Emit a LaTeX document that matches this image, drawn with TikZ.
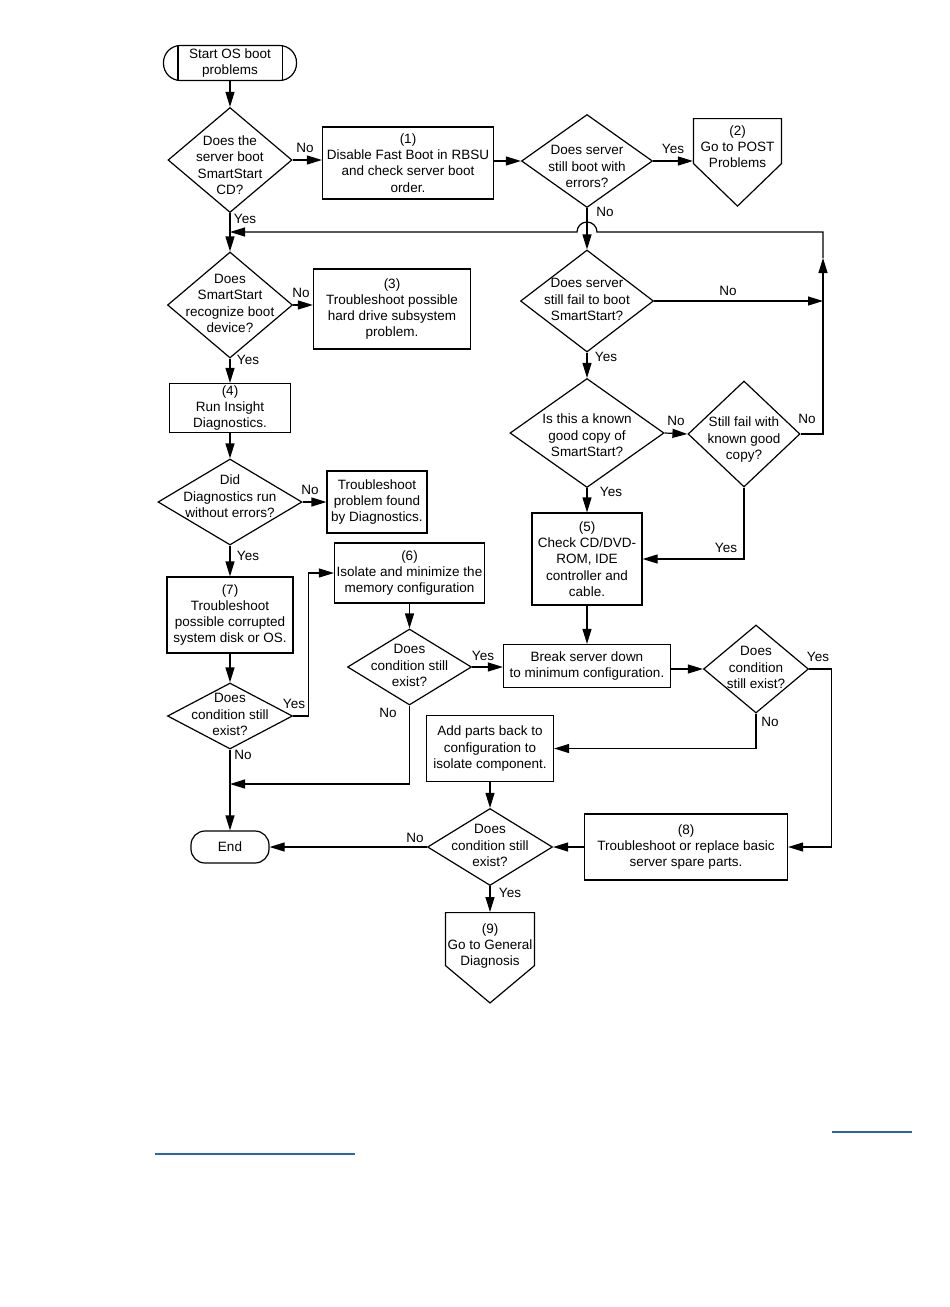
\documentclass[tikz,border=0pt]{standalone}
\usepackage{fontspec}
\setmainfont{Liberation Sans}
\usetikzlibrary{shapes.geometric,shapes.symbols,arrows.meta,calc}

\definecolor{linkblue}{RGB}{40,100,190}

\newcommand{\qtxt}[2][0pt]{\smash{\makebox[0pt]{\raisebox{\dimexpr-3.4pt-#1\relax}{\begin{tabular}{@{}c@{}}#2\end{tabular}}}}}

\tikzset{
  decision/.style={draw, diamond, inner sep=0pt},
  process/.style={draw, rectangle, inner sep=0pt, align=center},
  terminal/.style={draw, rectangle, rounded corners=14pt, inner sep=0pt, align=center},
  offpage/.style={draw, signal, signal to=south, signal from=nowhere, inner sep=0pt},
  flow/.style={-{Triangle[length=15pt, width=9pt]}},
  lbl/.style={inner sep=0pt},
}

\begin{document}
\begin{tikzpicture}[x=1pt, y=-1pt, line width=1.2pt, font=\fontsize{13.5}{16.3}\selectfont]
      \useasboundingbox (0, 0) rectangle (950, 1307);

      \node[terminal, rounded corners=17pt, minimum width=133pt, minimum height=35pt] (start) at (230, 63) {Start OS boot\\problems};
      \draw ([xshift=15pt]start.north west) -- ([xshift=15pt]start.south west);
      \draw ([xshift=-15pt]start.north east) -- ([xshift=-15pt]start.south east);

      \node[decision, minimum width=124pt, minimum height=105pt] (qboot) at (230, 160) {\qtxt[7pt]{Does the\\server boot\\SmartStart\\CD?}};
      \node[process, minimum width=171pt, minimum height=72pt] (fastboot) at (408, 163) {(1)\\Disable Fast Boot in RBSU\\and check server boot\\order.};
      \node[decision, minimum width=131pt, minimum height=93pt] (qerr) at (587, 161) {\qtxt[7pt]{Does server\\still boot with\\errors?}};
      \node[offpage, signal pointer angle=92, minimum width=88pt, minimum height=45pt, anchor=north] (post) at (737.5, 118) {\qtxt[7.5pt]{(2)\\Go to POST\\Problems}};

      \node[decision, minimum width=125pt, minimum height=106pt] (qrecog) at (230, 305) {\qtxt{Does\\SmartStart\\recognize boot\\device?}};
      \node[process, minimum width=157pt, minimum height=80pt] (hdd) at (392, 309) {(3)\\Troubleshoot possible\\hard drive subsystem\\problem.};
      \node[process, minimum width=121pt, minimum height=49pt] (insight) at (230, 408) {(4)\\Run Insight\\Diagnostics.};
      \node[decision, minimum width=144pt, minimum height=86pt] (qdiag) at (230, 502) {\qtxt[-4pt]{Did\\Diagnostics run\\without errors?}};
      \node[process, minimum width=100pt, minimum height=62pt] (diagfix) at (377, 502) {Troubleshoot\\problem found\\by Diagnostics.};
      \node[process, minimum width=126pt, minimum height=76pt] (corrupt) at (230, 615) {(7)\\Troubleshoot\\possible corrupted\\system disk or OS.};
      \node[decision, minimum width=125pt, minimum height=66pt] (qcondA) at (230, 716) {\qtxt{Does\\condition still\\exist?}};
      \node[process, minimum width=150pt, minimum height=60pt] (memory) at (409.5, 573) {(6)\\Isolate and minimize the\\memory configuration};
      \node[decision, minimum width=124pt, minimum height=76pt] (qcondB) at (409.5, 667) {\qtxt{Does\\condition still\\exist?}};

      \node[decision, minimum width=133pt, minimum height=102pt] (qfail) at (587, 301) {\qtxt{Does server\\still fail to boot\\SmartStart?}};
      \node[decision, minimum width=154pt, minimum height=109pt] (qcopy) at (587, 433) {\qtxt[4pt]{Is this a known\\good copy of\\SmartStart?}};
      \node[decision, minimum width=112pt, minimum height=106pt] (qgood) at (744, 434) {\qtxt[6pt]{Still fail with\\known good\\copy?}};
      \node[process, minimum width=110pt, minimum height=92pt] (cdrom) at (587, 559) {(5)\\Check CD/DVD-\\ROM, IDE\\controller and\\cable.};
      \node[process, minimum width=167pt, minimum height=43pt] (minconf) at (587, 666) {Break server down\\to minimum configuration.};
      \node[decision, minimum width=105pt, minimum height=88pt] (qcondC) at (756, 669) {\qtxt{Does\\condition\\still exist?}};
      \node[process, minimum width=127pt, minimum height=66pt] (addparts) at (490, 748.5) {Add parts back to\\configuration to\\isolate component.};
      \node[decision, minimum width=125pt, minimum height=77pt] (qcondD) at (490, 847) {\qtxt{Does\\condition still\\exist?}};
      \node[process, minimum width=203pt, minimum height=66pt] (spare) at (686, 847) {(8)\\Troubleshoot or replace basic\\server spare parts.};
      \node[terminal, minimum width=78pt, minimum height=32pt] (finish) at (230, 847) {End};
      \node[offpage, signal pointer angle=100, minimum width=89pt, minimum height=53pt, anchor=north] (general) at (490, 912) {\qtxt[7.5pt]{(9)\\Go to General\\Diagnosis}};

      \coordinate (loopTop) at (823, 232);
      \coordinate (loopUp) at (823, 258);
      \coordinate (merge) at (230, 784);

      \draw[flow] (start) -- (qboot);
      \draw[flow] (qboot.east) -- (qboot.east -| fastboot.west);
      \draw[flow] (fastboot.east |- qerr.west) -- (qerr.west);
      \draw[flow] (qerr.east) -- (qerr.east -| post.west);
      \draw[flow] (qerr.south) -- (qfail.north);
      \draw[flow] (qboot.south) -- (qrecog.north);
      \draw[flow] (qgood.east) -| (loopUp);
      \draw[flow] (loopUp) -- (loopTop) -- ($(qerr.south |- loopTop)+(10, 0)$) arc[start angle=0, end angle=180, radius=10pt] -- (qboot.south |- loopTop);
      \draw[flow] (qfail.east) -- (qfail.east -| loopTop);
      \draw[flow] (qrecog.east) -- (qrecog.east -| hdd.west);
      \draw[flow] (qrecog.south) -- (insight.north);
      \draw[flow] (insight.south) -- (qdiag.north);
      \draw[flow] (qdiag.east) -- (diagfix.west);
      \draw[flow] (qdiag.south) -- (corrupt.north);
      \draw[flow] (corrupt.south) -- (qcondA.north);
      \draw[flow] (qcondA.east) -- ++(15, 0) |- (memory.west);
      \draw[flow] (qcondA.south) -- (finish.north);
      \draw[flow] (memory.south) -- (qcondB.north);
      \draw[flow] (qcondB.east) -- (qcondB.east -| minconf.west);
      \draw[flow] (qcondB.south) |- (merge);
      \draw[flow] (qfail.south) -- (qcopy.north);
      \draw[flow] (qcopy.east) -- (qgood.west);
      \draw[flow] (qcopy.south) -- (cdrom.north);
      \draw[flow] (qgood.south) |- (cdrom.east);
      \draw[flow] (cdrom.south) -- (minconf.north);
      \draw[flow] (minconf.east |- qcondC.west) -- (qcondC.west);
      \draw[flow] (qcondC.south) |- (addparts.east);
      \draw[flow] (qcondC.east) -- ++(22, 0) |- (spare.east);
      \draw[flow] (addparts.south) -- (qcondD.north);
      \draw[flow] (spare.west) -- (qcondD.east);
      \draw[flow] (qcondD.west) -- (finish.east);
      \draw[flow] (qcondD.south) -- (general.north);

      \node[lbl] (lA) at (305, 148) {No};
      \node[lbl] (lB) at (673, 149) {Yes};
      \node[lbl] (lC) at (605, 212) {No};
      \node[lbl] (lD) at (245, 219) {Yes};
      \node[lbl] (lE) at (301, 293) {No};
      \node[lbl] (lF) at (248, 360) {Yes};
      \node[lbl] (lG) at (310, 490) {No};
      \node[lbl] (lH) at (248, 556) {Yes};
      \node[lbl] (lI) at (294, 704) {Yes};
      \node[lbl] (lJ) at (243, 755) {No};
      \node[lbl] (lK) at (388, 713) {No};
      \node[lbl] (lL) at (483, 656) {Yes};
      \node[lbl] (lM) at (818, 657) {Yes};
      \node[lbl] (lN) at (770, 722) {No};
      \node[lbl] (lO) at (726, 548) {Yes};
      \node[lbl] (lP) at (728, 291) {No};
      \node[lbl] (lQ) at (606, 357) {Yes};
      \node[lbl] (lR) at (676, 421) {No};
      \node[lbl] (lS) at (807, 419) {No};
      \node[lbl] (lT) at (611, 492) {Yes};
      \node[lbl] (lU) at (415, 838) {No};
      \node[lbl] (lV) at (510, 893) {Yes};

      \draw[linkblue] (832, 1132) -- (912, 1132);
      \draw[linkblue] (155, 1154) -- (355, 1154);
    \end{tikzpicture}
\end{document}
